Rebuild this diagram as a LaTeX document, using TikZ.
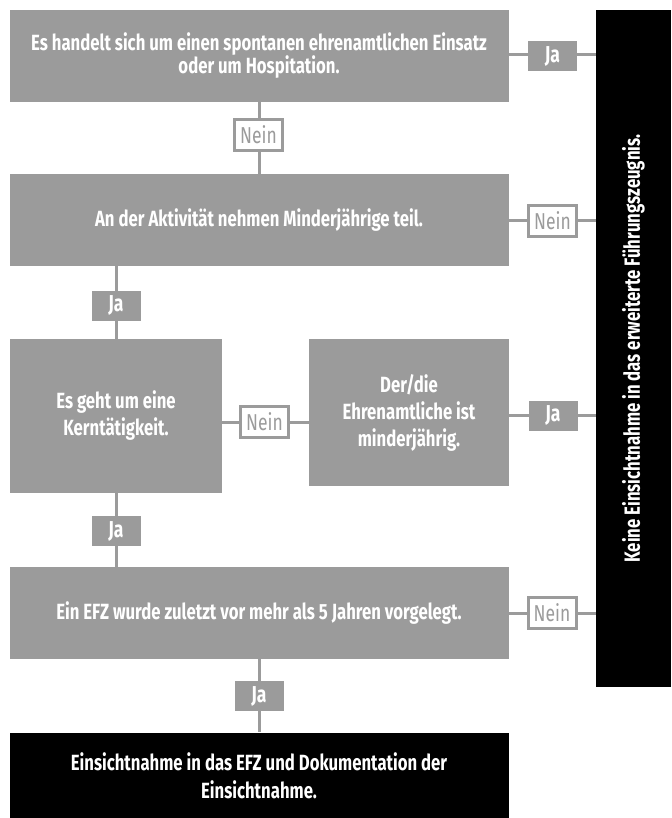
\documentclass[tikz,border=0pt]{standalone}
\usepackage{fontspec}
\setmainfont{Fira Sans}[FakeStretch=0.76]
\definecolor{boxgray}{HTML}{9B9B9B}
\begin{document}
\begin{tikzpicture}[x=1pt,y=-1pt,
  font=\bfseries,
  grbox/.style={fill=boxgray, text=white, inner sep=0pt, align=center, font=\fontsize{22}{23}\bfseries},
  blbox/.style={fill=black, text=white, inner sep=0pt, align=center, font=\fontsize{22}{28}\bfseries},
  conn/.style={draw=boxgray, line width=3pt},
  jalbl/.style={fill=boxgray, text=white, minimum width=49pt, minimum height=30pt, inner sep=0pt, font=\fontsize{23}{24}\bfseries},
  neinlbl/.style={fill=white, draw=boxgray, line width=3pt, text=boxgray, minimum width=48pt, minimum height=31pt, inner sep=0pt, font=\fontsize{23}{24}\selectfont}
]
\useasboundingbox (0,0) rectangle (671,818);
\begin{scope}
\clip (0,0) rectangle (671,818);
\node[grbox, minimum width=499pt, minimum height=92pt] (b1) at (259,56) {Es handelt sich um einen spontanen ehrenamtlichen Einsatz\\oder um Hospitation.};
\node[grbox, minimum width=499pt, minimum height=92pt] (b2) at (259,220) {An der Aktivität nehmen Minderjährige teil.};
\node[grbox, minimum width=212pt, minimum height=154pt, font=\fontsize{22}{27}\bfseries] (b3) at (116,416) {Es geht um eine\\Kerntätigkeit.};
\node[grbox, minimum width=200pt, minimum height=147pt, font=\fontsize{22}{27}\bfseries] (b4) at (409,412.5) {Der/die\\Ehrenamtliche ist\\minderjährig.};
\node[grbox, minimum width=499pt, minimum height=92pt] (b5) at (259,613) {Ein EFZ wurde zuletzt vor mehr als 5 Jahren vorgelegt.};
\node[blbox, minimum width=499pt, minimum height=86pt] (b6) at (259,775.5) {Einsichtnahme in das EFZ und Dokumentation der\\Einsichtnahme.};
\node[fill=black, minimum width=75pt, minimum height=677pt, inner sep=0pt] (nb) at (633.5,348.5) {};
\node[text=white, rotate=90, font=\fontsize{22}{24}\bfseries] (nbt) at (nb.center) {Keine Einsichtnahme in das erweiterte Führungszeugnis.};

% connectors
\draw[conn] (b1.south) -- (b2.north);
\draw[conn] (b3.north |- b2.south) -- (b3.north);
\draw[conn] (b3.south) -- (b3.south |- b5.north);
\draw[conn] (b5.south) -- (b6.north);
\draw[conn] (b1.east |- 0,55) -- (nb.west |- 0,55);
\draw[conn] (b2.east |- 0,221) -- (nb.west |- 0,221);
\draw[conn] (b3.east |- 0,422) -- (b4.west |- 0,422);
\draw[conn] (b4.east |- 0,415) -- (nb.west |- 0,415);
\draw[conn] (b5.east |- 0,613) -- (nb.west |- 0,613);

% labels
\node[neinlbl] (n1) at (258.5,135) {Nein};
\node[jalbl] (j1) at (552.5,56) {Ja};
\node[neinlbl] (n2) at (552.5,221) {Nein};
\node[jalbl] (j2) at (116,305.5) {Ja};
\node[neinlbl] (n3) at (264.5,422) {Nein};
\node[jalbl] (j3) at (553,415.5) {Ja};
\node[jalbl] (j4) at (116,531) {Ja};
\node[neinlbl] (n4) at (552,613) {Nein};
\node[jalbl] (j5) at (259,696) {Ja};
\end{scope}
\end{tikzpicture}
\end{document}
